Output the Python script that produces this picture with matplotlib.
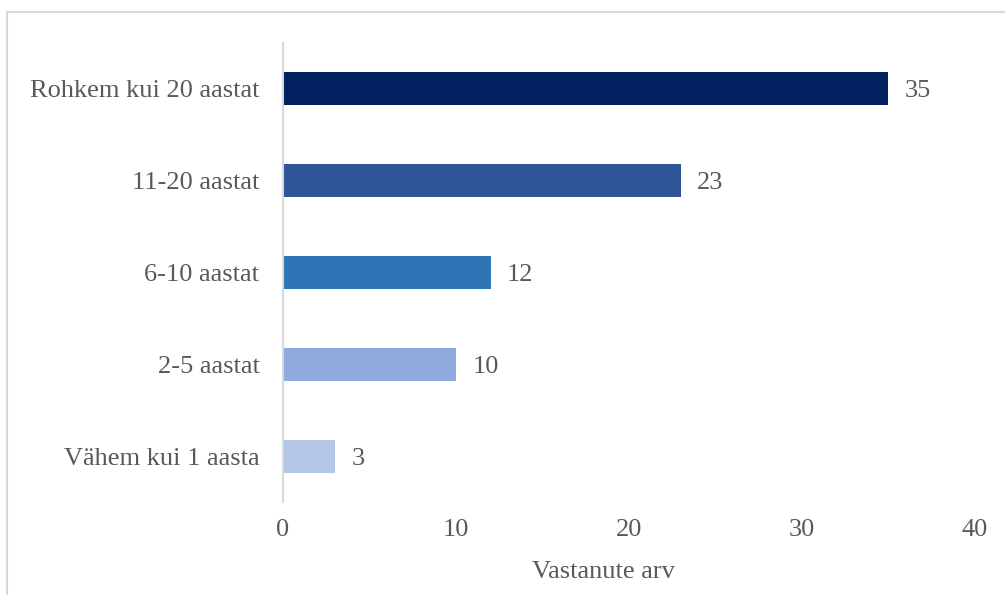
import matplotlib.pyplot as plt
from matplotlib.lines import Line2D

categories = ['Vähem kui 1 aasta', '2-5 aastat', '6-10 aastat', '11-20 aastat', 'Rohkem kui 20 aastat']
values = [3, 10, 12, 23, 35]
colors = ['#B4C7E7', '#8FAADC', '#2E75B6', '#2F5597', '#002060']
xticks = [0, 10, 20, 30, 40]

plt.rcParams['font.family'] = 'Liberation Serif'
txt = '#595959'
fs = 19

fig = plt.figure(figsize=(10.05, 5.95), dpi=100)
ax = fig.add_axes([0.2816, 0.1563, 0.970 - 0.2816, 0.9277 - 0.1563])

ypos = range(len(categories))
ax.barh(ypos, values, height=0.36, color=colors)
for y, v in zip(ypos, values):
    ax.text(v + 0.95, y, str(v), va='center_baseline', ha='left', fontsize=fs, color=txt)

ax.set_xlim(0, 40)
ax.set_ylim(-0.5, 4.5)
ax.set_xticks(xticks)
ax.set_yticks(list(ypos))
ax.set_yticklabels(categories)
ax.tick_params(axis='both', length=0, labelsize=fs, labelcolor=txt)
ax.tick_params(axis='x', pad=12)
ax.tick_params(axis='y', pad=17)
for s in ['top', 'right', 'bottom']:
    ax.spines[s].set_visible(False)
ax.spines['left'].set_color('#D9D9D9')
ax.spines['left'].set_linewidth(1.5)

# axis title sits a bit left of the plot centre in the original
fig.text(603 / 1005, 1 - 578 / 595, 'Vastanute arv', ha='center', va='baseline', fontsize=fs, color=txt)

# outer chart border (left and top visible in the crop)
fig.add_artist(Line2D([7 / 1005, 7 / 1005], [0, 1 - 12 / 595], transform=fig.transFigure, color='#D9D9D9', lw=1.5))
fig.add_artist(Line2D([7 / 1005, 1], [1 - 12 / 595, 1 - 12 / 595], transform=fig.transFigure, color='#D9D9D9', lw=1.5))

fig.savefig('out.png', dpi=100)
